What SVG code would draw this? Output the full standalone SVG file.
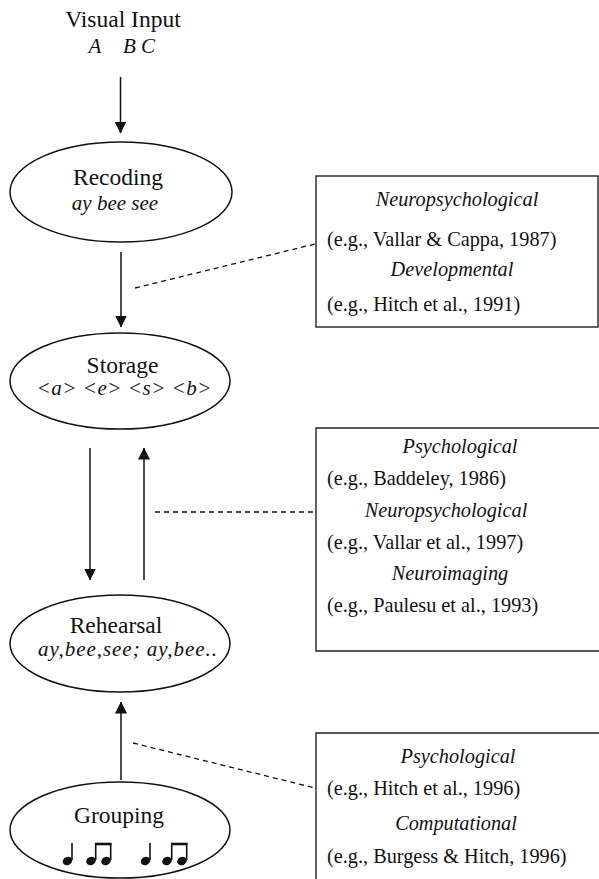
<svg xmlns="http://www.w3.org/2000/svg" width="599" height="879" viewBox="0 0 599 879">
<style>
.t{font-family:"Liberation Serif","Times New Roman",serif;fill:#111;}
.n{font-size:23.5px;text-anchor:middle;}
.s{font-size:21px;font-style:italic;text-anchor:middle;}
.b{font-size:20.3px;}
.i{font-style:italic;text-anchor:middle;}
.e{fill:none;stroke:#111;stroke-width:1.5;}
.r{fill:none;stroke:#222;stroke-width:1.4;}
.a{stroke:#111;stroke-width:1.5;fill:none;}
.d{stroke:#111;stroke-width:1.3;fill:none;stroke-dasharray:5 4;}
.note{fill:#111;}
.stem{stroke:#111;stroke-width:1.6;}
.beam{stroke:#111;stroke-width:2.6;}
</style>
<defs>
<marker id="ah" viewBox="0 0 12 15" refX="11.5" refY="7.5" markerWidth="12" markerHeight="15" markerUnits="userSpaceOnUse" orient="auto">
<path d="M0,1.5 L12,7.5 L0,13.5 Z" fill="#111"/>
</marker>
</defs>

<g id="visual-input">
<text class="t n" x="123" y="27">Visual Input</text>
<text class="t s" x="95" y="53">A</text>
<text class="t s" x="139" y="53">B C</text>
</g>

<g id="recoding">
<ellipse class="e" cx="121" cy="192" rx="111" ry="50"/>
<text class="t n" x="118" y="185">Recoding</text>
<text class="t s" x="115" y="210">ay bee see</text>
</g>

<g id="storage">
<ellipse class="e" cx="120" cy="381" rx="110" ry="48"/>
<text class="t n" x="122.5" y="373">Storage</text>
<text class="t s" x="124" y="395" textLength="175" lengthAdjust="spacing">&lt;a&gt; &lt;e&gt;  &lt;s&gt; &lt;b&gt;</text>
</g>

<g id="rehearsal">
<ellipse class="e" cx="120" cy="643.5" rx="110" ry="48.5"/>
<text class="t n" x="116" y="633">Rehearsal</text>
<text class="t s" x="127.5" y="656" textLength="179" lengthAdjust="spacing">ay,bee,see; ay,bee..</text>
</g>

<g id="grouping">
<ellipse class="e" cx="120" cy="830" rx="110" ry="48"/>
<text class="t n" x="119" y="823">Grouping</text>
<g id="notes">
<ellipse class="note" cx="67.5" cy="861" rx="5" ry="4" transform="rotate(-25 67.5 861)"/>
<line class="stem" x1="72" y1="860" x2="72" y2="843"/>
<ellipse class="note" cx="91" cy="861" rx="5" ry="4" transform="rotate(-25 91 861)"/>
<ellipse class="note" cx="106" cy="861" rx="5" ry="4" transform="rotate(-25 106 861)"/>
<line class="stem" x1="95.7" y1="860" x2="95.7" y2="843"/>
<line class="stem" x1="110.7" y1="860" x2="110.7" y2="843"/>
<line class="beam" x1="95" y1="844" x2="111.4" y2="844"/>
<ellipse class="note" cx="145.5" cy="861" rx="5" ry="4" transform="rotate(-25 145.5 861)"/>
<line class="stem" x1="150" y1="860" x2="150" y2="843"/>
<ellipse class="note" cx="167" cy="861" rx="5" ry="4" transform="rotate(-25 167 861)"/>
<ellipse class="note" cx="182" cy="861" rx="5" ry="4" transform="rotate(-25 182 861)"/>
<line class="stem" x1="171.7" y1="860" x2="171.7" y2="843"/>
<line class="stem" x1="186.7" y1="860" x2="186.7" y2="843"/>
<line class="beam" x1="171" y1="844" x2="187.4" y2="844"/>
</g>
</g>

<g id="box-recoding-evidence">
<rect class="r" x="316" y="176" width="282" height="151"/>
<text class="t b i" x="457" y="206">Neuropsychological</text>
<text class="t b" x="327" y="246">(e.g., Vallar &amp; Cappa, 1987)</text>
<text class="t b i" x="452" y="276">Developmental</text>
<text class="t b" x="327" y="311">(e.g., Hitch et al., 1991)</text>
</g>

<g id="box-rehearsal-evidence">
<path class="r" d="M605,428 H316 V651 H605"/>
<text class="t b i" x="460" y="453">Psychological</text>
<text class="t b" x="327" y="485">(e.g., Baddeley, 1986)</text>
<text class="t b i" x="446" y="517">Neuropsychological</text>
<text class="t b" x="327" y="549">(e.g., Vallar et al., 1997)</text>
<text class="t b i" x="450" y="580">Neuroimaging</text>
<text class="t b" x="327" y="612">(e.g., Paulesu et al., 1993)</text>
</g>

<g id="box-grouping-evidence">
<path class="r" d="M605,733 H316 V890"/>
<text class="t b i" x="458" y="763">Psychological</text>
<text class="t b" x="327" y="795">(e.g., Hitch et al., 1996)</text>
<text class="t b i" x="456" y="830">Computational</text>
<text class="t b" x="327" y="863">(e.g., Burgess &amp; Hitch, 1996)</text>
</g>

<g id="connectors">
<line class="a" x1="120.5" y1="77" x2="120.5" y2="133" marker-end="url(#ah)"/>
<line class="a" x1="121" y1="252" x2="121" y2="327" marker-end="url(#ah)"/>
<line class="a" x1="90" y1="448" x2="90" y2="580" marker-end="url(#ah)"/>
<line class="a" x1="144" y1="580" x2="144" y2="448" marker-end="url(#ah)"/>
<line class="a" x1="121" y1="780" x2="121" y2="702" marker-end="url(#ah)"/>
<line class="d" x1="135" y1="288" x2="315" y2="244"/>
<line class="d" x1="155" y1="512" x2="315" y2="512"/>
<line class="d" x1="133" y1="743" x2="315" y2="788"/>
</g>
</svg>
